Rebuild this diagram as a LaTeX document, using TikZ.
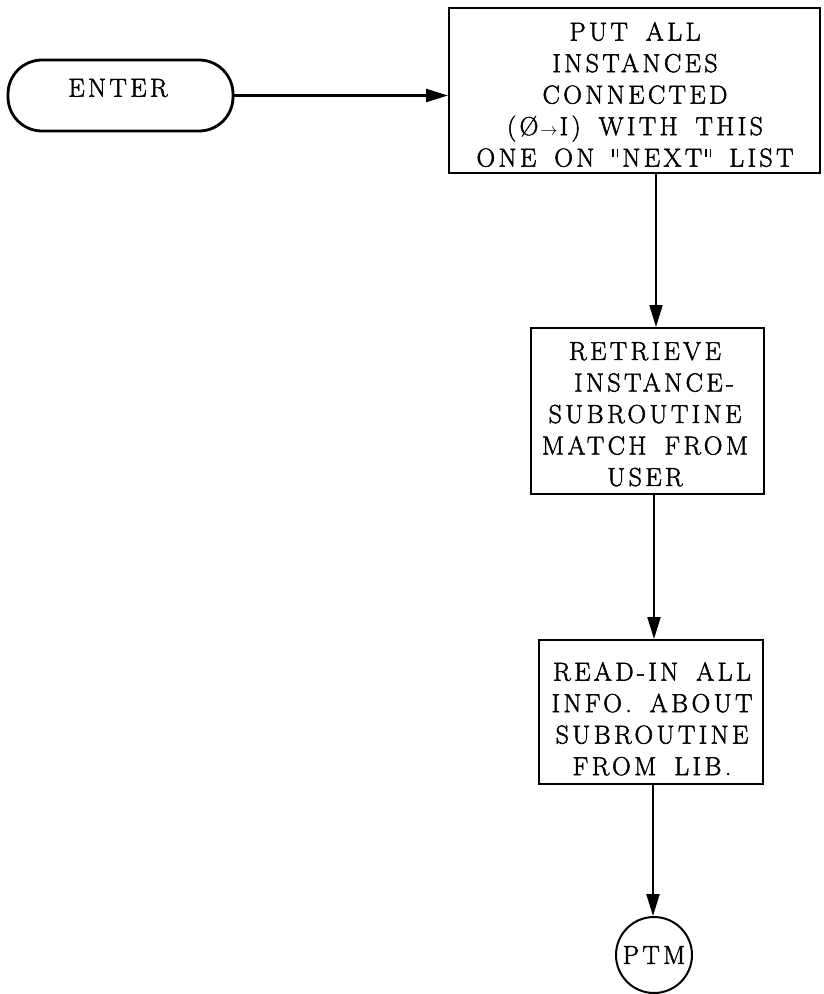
\documentclass[tikz,border=0pt]{standalone}
\usepackage{fontspec}
\newfontfamily\tw{Latin Modern Roman}[LetterSpace=13,WordSpace=1.6,FakeBold=1.8]
\usetikzlibrary{arrows.meta}
\newcommand{\dq}{\raisebox{10pt}{\rule{1.7pt}{7.5pt}\hspace{2.6pt}\rule{1.7pt}{7.5pt}}}
\begin{document}
\begin{tikzpicture}[x=1pt,y=-1pt,
  box/.style={draw,line width=2pt,inner sep=0pt,rectangle},
  term/.style={draw,line width=2.8pt,inner sep=0pt,rectangle,rounded corners=34pt},
  circ/.style={draw,line width=2pt,inner sep=0pt,circle,minimum size=76pt,
    font=\tw\fontsize{26}{31.5}\selectfont},
  txt/.style={inner sep=0pt,align=center,font=\tw\fontsize{26}{31.5}\selectfont},
  arr/.style={line width=2.2pt,-{Triangle[length=22pt,width=13pt]}}]
\useasboundingbox (0,0) rectangle (824,994);
% shapes
\node[term,minimum width=225pt,minimum height=71pt] (enter) at (120.5,95.5) {};
\node[txt] (entert) at (118,88) {ENTER};
\node[box,minimum width=371pt,minimum height=165pt] (b1) at (634.5,90.5) {};
\node[txt,anchor=north] (t1) at (635,22)
  {PUT ALL\\INSTANCES\\CONNECTED\\(Ø\hspace{2pt}$\scriptstyle\rightarrow$\hspace{2pt}I) WITH THIS\\ONE ON \dq\hspace{4pt}NEXT\hspace{3pt}\dq\ LIST};
\node[box,minimum width=233pt,minimum height=166pt] (b2) at (647.5,411) {};
\node[txt,anchor=north] (t2) at (645,342)
  {RETRIEVE\\\hspace*{18pt}INSTANCE-\\SUBROUTINE\\MATCH FROM\\USER};
\node[box,minimum width=224pt,minimum height=144pt] (b3) at (651,712) {};
\node[txt,anchor=north] (t3) at (652,662)
  {READ-IN ALL\\INFO. ABOUT\\SUBROUTINE\\FROM LIB.};
\node[circ] (ptm) at (654,955) {PTM};
% connectors
\coordinate (x1) at (656,0);
\coordinate (x2) at (654,0);
\coordinate (x3) at (653,0);
\draw[arr] (enter.east) -- (enter.east -| b1.west);
\draw[arr] (b1.south -| x1) -- (b2.north -| x1);
\draw[arr] (b2.south -| x2) -- (b3.north -| x2);
\draw[arr] (b3.south -| x3) -- (ptm.north -| x3);
\end{tikzpicture}
\end{document}
